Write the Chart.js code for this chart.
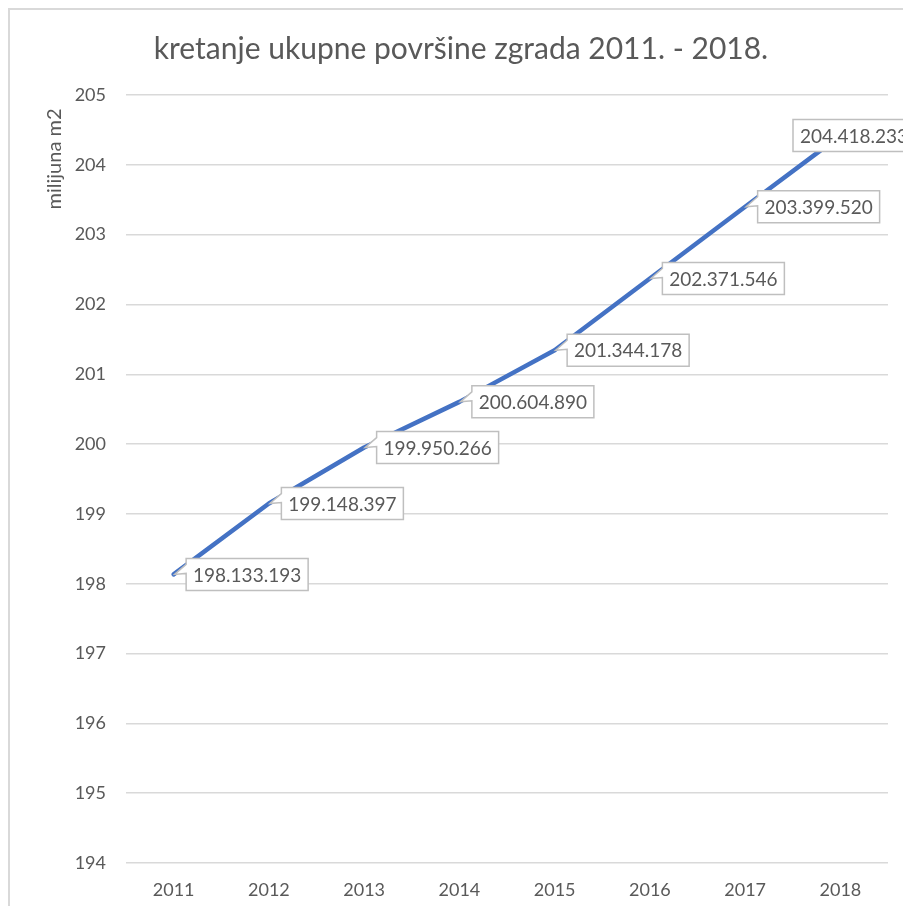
<!DOCTYPE html>
<html>
<head>
<meta charset="utf-8">
<script src="https://cdn.jsdelivr.net/npm/chart.js@4.4.1/dist/chart.umd.min.js"></script>
<style>
html, body { margin: 0; padding: 0; overflow: hidden; background: #fff; }
#wrap { width: 915px; height: 906px; }
</style>
</head>
<body>
<div id="wrap"><canvas id="chart" width="915" height="906"></canvas></div>
<script>
const years = ["2011", "2012", "2013", "2014", "2015", "2016", "2017", "2018"];
const areaM2 = [198133193, 199148397, 199950266, 200604890, 201344178, 202371546, 203399520, 204418233];
const yMin = 194;
const yMax = 205;
const yTitle = "milijuna m2";

const textColor = "#595959";
const gridColor = "#d9d9d9";

function formatDots(n) {
    return String(n).replace(/\B(?=(\d{3})+(?!\d))/g, ".");
}

// gray frame of the chart, only left and top edges are visible
const frame = {
    id: "frame",
    beforeDraw(chart) {
        const ctx = chart.ctx;
        ctx.save();
        ctx.fillStyle = "#fff";
        ctx.fillRect(0, 0, chart.width, chart.height);
        ctx.strokeStyle = gridColor;
        ctx.lineWidth = 2;
        ctx.beginPath();
        ctx.moveTo(9, chart.height);
        ctx.lineTo(9, 9);
        ctx.lineTo(chart.width, 9);
        ctx.stroke();
        ctx.restore();
    }
};

// y axis title sits near the top of the axis, like in Excel
const axisTitle = {
    id: "axisTitle",
    afterDraw(chart) {
        const ctx = chart.ctx;
        const area = chart.chartArea;
        ctx.save();
        ctx.translate(area.left - 71, area.top + 64);
        ctx.rotate(-Math.PI / 2);
        ctx.font = "20px Lato";
        ctx.fillStyle = textColor;
        ctx.textAlign = "center";
        ctx.textBaseline = "middle";
        ctx.fillText(yTitle, 0, 0);
        ctx.restore();
    }
};

// callout boxes with the exact values
const labelBoxes = {
    id: "labelBoxes",
    afterDatasetsDraw(chart) {
        const ctx = chart.ctx;
        const meta = chart.getDatasetMeta(0);
        ctx.save();
        ctx.font = "19px Lato";
        ctx.lineWidth = 1.5;
        meta.data.forEach((pt, i) => {
            const text = formatDots(areaM2[i]);
            const w = Math.round(ctx.measureText(text).width) + 14;
            const h = 32;
            let bx = pt.x + 12.5;
            if (bx + w > chart.width) bx = chart.width - w;
            const by = pt.y - h / 2;
            ctx.beginPath();
            ctx.moveTo(bx, by);
            ctx.lineTo(bx + w, by);
            ctx.lineTo(bx + w, by + h);
            ctx.lineTo(bx, by + h);
            if (bx > pt.x) {
                ctx.lineTo(bx, pt.y - 1);
                ctx.lineTo(pt.x + 1, pt.y);
                ctx.lineTo(bx, pt.y - 10);
            }
            ctx.closePath();
            ctx.fillStyle = "#fff";
            ctx.fill();
            ctx.strokeStyle = "#bfbfbf";
            ctx.stroke();
            ctx.fillStyle = textColor;
            ctx.textAlign = "center";
            ctx.textBaseline = "middle";
            ctx.fillText(text, bx + w / 2, pt.y + 1);
        });
        ctx.restore();
    }
};

function draw() {
    Chart.defaults.font.family = "Lato";
    Chart.defaults.color = textColor;
    new Chart(document.getElementById("chart"), {
        type: "line",
        data: {
            labels: years,
            datasets: [{
                data: areaM2.map(v => v / 1e6),
                borderColor: "#4472C4",
                borderWidth: 4.5,
                borderCapStyle: "round",
                borderJoinStyle: "round",
                pointRadius: 0,
                tension: 0
            }]
        },
        options: {
            responsive: false,
            animation: false,
            devicePixelRatio: 1,
            layout: { padding: { left: 34, right: 27, top: 0, bottom: 0 } },
            plugins: {
                legend: { display: false },
                tooltip: { enabled: false },
                title: {
                    display: true,
                    text: "kretanje ukupne površine zgrada 2011. - 2018.",
                    color: textColor,
                    font: { size: 30, weight: "normal" },
                    padding: { top: 31, bottom: 28 }
                }
            },
            scales: {
                x: {
                    offset: true,
                    grid: { display: false },
                    border: { display: false },
                    ticks: { color: textColor, font: { size: 18 }, padding: 8 },
                    afterFit(scale) { scale.height = 43; }
                },
                y: {
                    min: yMin,
                    max: yMax,
                    ticks: { stepSize: 1, color: textColor, font: { size: 18 }, padding: 20 },
                    grid: { color: gridColor, lineWidth: 1.5, drawTicks: false },
                    border: { display: false },
                    afterFit(scale) { scale.width = 92; }
                }
            }
        },
        plugins: [frame, axisTitle, labelBoxes]
    });
}

if (document.fonts && document.fonts.load) {
    Promise.all([document.fonts.load("18px Lato"), document.fonts.load("30px Lato")]).then(draw, draw);
} else {
    draw();
}
</script>
</body>
</html>
